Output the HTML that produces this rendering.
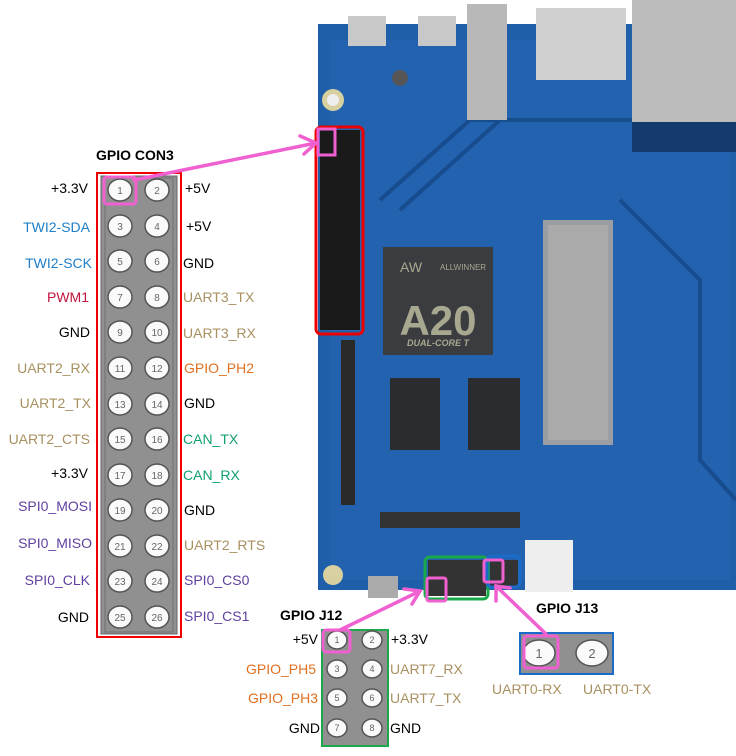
<!DOCTYPE html>
<html><head><meta charset="utf-8"><style>
body{margin:0;width:736px;height:756px;background:#fff;overflow:hidden}
svg{display:block}
text{font-family:"Liberation Sans",sans-serif}
</style></head><body>
<svg width="736" height="756" viewBox="0 0 736 756">
<!-- board -->
<rect x="318" y="24" width="418" height="566" fill="#1f5ea8"/>
<rect x="330" y="40" width="400" height="540" fill="#2566b4" opacity=".6"/>
<path d="M380 200 L470 120 L640 120 M400 210 L500 120 M620 200 L700 280 L700 460 L736 500" stroke="#174c8e" stroke-width="4" fill="none"/>
<!-- top connectors -->
<rect x="348" y="16" width="38" height="30" fill="#c8c8c8"/>
<rect x="418" y="16" width="38" height="30" fill="#c8c8c8"/>
<rect x="467" y="4" width="40" height="116" fill="#b8b8b8"/>
<rect x="536" y="8" width="90" height="72" fill="#d0d0d0"/>
<rect x="632" y="0" width="104" height="122" fill="#bcbcbc"/>
<rect x="632" y="122" width="104" height="30" fill="#143a6e"/>
<circle cx="333" cy="100" r="11" fill="#d8d0a0"/><circle cx="333" cy="100" r="6" fill="#eee"/>
<circle cx="400" cy="78" r="8" fill="#555"/>
<!-- chip -->
<rect x="383" y="247" width="110" height="108" fill="#3a3c40"/>
<text x="438" y="335" font-size="42" font-weight="bold" fill="#a8a890" text-anchor="middle">A20</text>
<text x="438" y="346" font-size="9" font-style="italic" font-weight="bold" fill="#a8a890" text-anchor="middle">DUAL-CORE T</text>
<text x="440" y="270" font-size="8" fill="#a8a890">ALLWINNER</text>
<text x="400" y="272" font-size="14" fill="#a8a890">AW</text>
<!-- RAM -->
<rect x="390" y="378" width="50" height="72" fill="#2a2c30"/>
<rect x="468" y="378" width="52" height="72" fill="#2a2c30"/>
<!-- SD slot -->
<rect x="543" y="220" width="70" height="225" fill="#9a9ea4"/>
<rect x="548" y="225" width="60" height="215" fill="#aaa"/>
<!-- ribbons -->
<rect x="341" y="340" width="14" height="165" fill="#2a2a2a"/>
<rect x="380" y="512" width="140" height="16" fill="#333"/>
<rect x="525" y="540" width="48" height="52" fill="#eee"/>
<circle cx="333" cy="575" r="10" fill="#d8d0a0"/>
<rect x="368" y="576" width="30" height="22" fill="#aaa"/>
<!-- header on board -->
<rect x="320" y="130" width="40" height="200" fill="#1a1a1a"/>
<rect x="316" y="127" width="47" height="207" rx="5" fill="none" stroke="#e00" stroke-width="3"/>
<rect x="318" y="129" width="17" height="26" fill="none" stroke="#f060d0" stroke-width="3"/>
<!-- J12/J13 on board -->
<rect x="428" y="560" width="58" height="36" fill="#333"/>
<rect x="490" y="560" width="28" height="26" fill="#333"/>
<rect x="425" y="557" width="63" height="42" rx="5" fill="none" stroke="#1aa84a" stroke-width="3"/>
<rect x="487" y="556" width="33" height="31" rx="5" fill="none" stroke="#1a6cc8" stroke-width="3"/>
<rect x="427" y="578" width="19" height="23" rx="2" fill="none" stroke="#f060d0" stroke-width="3"/>
<rect x="484" y="560" width="19" height="22" rx="2" fill="none" stroke="#f060d0" stroke-width="3"/>

<!-- CON3 -->
<text x="96" y="160" font-size="14" font-weight="bold">GPIO CON3</text>
<rect x="97" y="173" width="84" height="464" fill="none" stroke="#e00" stroke-width="2"/>
<rect x="101" y="176" width="76" height="458" fill="#909090" stroke="#666"/>
<rect x="105" y="178" width="68" height="454" fill="none" stroke="#707070"/>
<g id="pins" stroke="#555" stroke-width="1.5" fill="#fafafa" font-size="11">
</g>
<g font-size="14">
<script type="text/plain"></script>
</g>
<g stroke="#555" stroke-width="1.5" fill="#fafafa">
<ellipse cx="120" cy="190" rx="12" ry="11"/><ellipse cx="157" cy="190" rx="12" ry="11"/>
<ellipse cx="120" cy="226" rx="12" ry="11"/><ellipse cx="157" cy="226" rx="12" ry="11"/>
<ellipse cx="120" cy="261" rx="12" ry="11"/><ellipse cx="157" cy="261" rx="12" ry="11"/>
<ellipse cx="120" cy="297" rx="12" ry="11"/><ellipse cx="157" cy="297" rx="12" ry="11"/>
<ellipse cx="120" cy="332" rx="12" ry="11"/><ellipse cx="157" cy="332" rx="12" ry="11"/>
<ellipse cx="120" cy="368" rx="12" ry="11"/><ellipse cx="157" cy="368" rx="12" ry="11"/>
<ellipse cx="120" cy="404" rx="12" ry="11"/><ellipse cx="157" cy="404" rx="12" ry="11"/>
<ellipse cx="120" cy="439" rx="12" ry="11"/><ellipse cx="157" cy="439" rx="12" ry="11"/>
<ellipse cx="120" cy="475" rx="12" ry="11"/><ellipse cx="157" cy="475" rx="12" ry="11"/>
<ellipse cx="120" cy="510" rx="12" ry="11"/><ellipse cx="157" cy="510" rx="12" ry="11"/>
<ellipse cx="120" cy="546" rx="12" ry="11"/><ellipse cx="157" cy="546" rx="12" ry="11"/>
<ellipse cx="120" cy="581" rx="12" ry="11"/><ellipse cx="157" cy="581" rx="12" ry="11"/>
<ellipse cx="120" cy="617" rx="12" ry="11"/><ellipse cx="157" cy="617" rx="12" ry="11"/>
</g>
<g font-size="10" fill="#666" text-anchor="middle">
<text x="120" y="194">1</text><text x="157" y="194">2</text>
<text x="120" y="230">3</text><text x="157" y="230">4</text>
<text x="120" y="265">5</text><text x="157" y="265">6</text>
<text x="120" y="301">7</text><text x="157" y="301">8</text>
<text x="120" y="336">9</text><text x="157" y="336">10</text>
<text x="120" y="372">11</text><text x="157" y="372">12</text>
<text x="120" y="408">13</text><text x="157" y="408">14</text>
<text x="120" y="443">15</text><text x="157" y="443">16</text>
<text x="120" y="479">17</text><text x="157" y="479">18</text>
<text x="120" y="514">19</text><text x="157" y="514">20</text>
<text x="120" y="550">21</text><text x="157" y="550">22</text>
<text x="120" y="585">23</text><text x="157" y="585">24</text>
<text x="120" y="621">25</text><text x="157" y="621">26</text>
</g>
<rect x="104" y="177" width="32" height="27" rx="3" fill="none" stroke="#f060d0" stroke-width="3"/>
<g font-size="14" text-anchor="end">
<text x="88" y="193" fill="#000">+3.3V</text>
<text x="90" y="232" fill="#1f7fc8">TWI2-SDA</text>
<text x="92" y="268" fill="#1f7fc8">TWI2-SCK</text>
<text x="89" y="302" fill="#c0143c">PWM1</text>
<text x="90" y="337" fill="#000">GND</text>
<text x="90" y="373" fill="#a89060">UART2_RX</text>
<text x="91" y="408" fill="#a89060">UART2_TX</text>
<text x="90" y="444" fill="#a89060">UART2_CTS</text>
<text x="88" y="478" fill="#000">+3.3V</text>
<text x="92" y="511" fill="#6040a0">SPI0_MOSI</text>
<text x="92" y="548" fill="#6040a0">SPI0_MISO</text>
<text x="90" y="585" fill="#6040a0">SPI0_CLK</text>
<text x="89" y="622" fill="#000">GND</text>
</g>
<g font-size="14">
<text x="185" y="193" fill="#000">+5V</text>
<text x="186" y="231" fill="#000">+5V</text>
<text x="183" y="268" fill="#000">GND</text>
<text x="183" y="302" fill="#a89060">UART3_TX</text>
<text x="183" y="338" fill="#a89060">UART3_RX</text>
<text x="184" y="373" fill="#e07020">GPIO_PH2</text>
<text x="184" y="408" fill="#000">GND</text>
<text x="183" y="444" fill="#10a070">CAN_TX</text>
<text x="183" y="480" fill="#10a070">CAN_RX</text>
<text x="184" y="515" fill="#000">GND</text>
<text x="184" y="550" fill="#a89060">UART2_RTS</text>
<text x="184" y="585" fill="#6040a0">SPI0_CS0</text>
<text x="184" y="621" fill="#6040a0">SPI0_CS1</text>
</g>

<!-- J12 -->
<text x="280" y="620" font-size="14" font-weight="bold">GPIO J12</text>
<rect x="322" y="630" width="66" height="116" fill="#909090" stroke="#1aa84a" stroke-width="2"/>
<g stroke="#555" stroke-width="1.5" fill="#fafafa">
<ellipse cx="337" cy="640" rx="10" ry="9"/><ellipse cx="372" cy="640" rx="10" ry="9"/>
<ellipse cx="337" cy="669" rx="10" ry="9"/><ellipse cx="372" cy="669" rx="10" ry="9"/>
<ellipse cx="337" cy="698" rx="10" ry="9"/><ellipse cx="372" cy="698" rx="10" ry="9"/>
<ellipse cx="337" cy="728" rx="10" ry="9"/><ellipse cx="372" cy="728" rx="10" ry="9"/>
</g>
<g font-size="9" fill="#666" text-anchor="middle">
<text x="337" y="643">1</text><text x="372" y="643">2</text>
<text x="337" y="672">3</text><text x="372" y="672">4</text>
<text x="337" y="701">5</text><text x="372" y="701">6</text>
<text x="337" y="731">7</text><text x="372" y="731">8</text>
</g>
<rect x="323" y="630" width="27" height="22" rx="3" fill="none" stroke="#f060d0" stroke-width="3"/>
<g font-size="14" text-anchor="end">
<text x="318" y="644" fill="#000">+5V</text>
<text x="316" y="674" fill="#e07020">GPIO_PH5</text>
<text x="318" y="703" fill="#e07020">GPIO_PH3</text>
<text x="320" y="733" fill="#000">GND</text>
</g>
<g font-size="14">
<text x="391" y="644" fill="#000">+3.3V</text>
<text x="390" y="674" fill="#a89060">UART7_RX</text>
<text x="390" y="703" fill="#a89060">UART7_TX</text>
<text x="390" y="733" fill="#000">GND</text>
</g>

<!-- J13 -->
<text x="536" y="613" font-size="14" font-weight="bold">GPIO J13</text>
<rect x="520" y="633" width="93" height="41" fill="#909090" stroke="#1a6cc8" stroke-width="2"/>
<ellipse cx="539" cy="653" rx="16" ry="13" fill="#fafafa" stroke="#555" stroke-width="1.5"/>
<ellipse cx="592" cy="653" rx="16" ry="13" fill="#fafafa" stroke="#555" stroke-width="1.5"/>
<text x="539" y="658" font-size="13" fill="#666" text-anchor="middle">1</text>
<text x="592" y="658" font-size="13" fill="#666" text-anchor="middle">2</text>
<rect x="524" y="636" width="34" height="32" rx="3" fill="none" stroke="#f060d0" stroke-width="3"/>
<text x="492" y="694" font-size="14" fill="#a89060">UART0-RX</text>
<text x="583" y="694" font-size="14" fill="#a89060">UART0-TX</text>

<!-- arrows -->
<g stroke="#f060d0" stroke-width="3.5" fill="none" stroke-linecap="round">
<path d="M134 180 L316 143"/><path d="M300 136 L316 143 L304 154"/>
<path d="M340 630 L420 591"/><path d="M404 589 L420 591 L412 604"/>
<path d="M546 634 L496 586"/><path d="M496 601 L496 586 L510 588"/>
</g>
</svg>
</body></html>
